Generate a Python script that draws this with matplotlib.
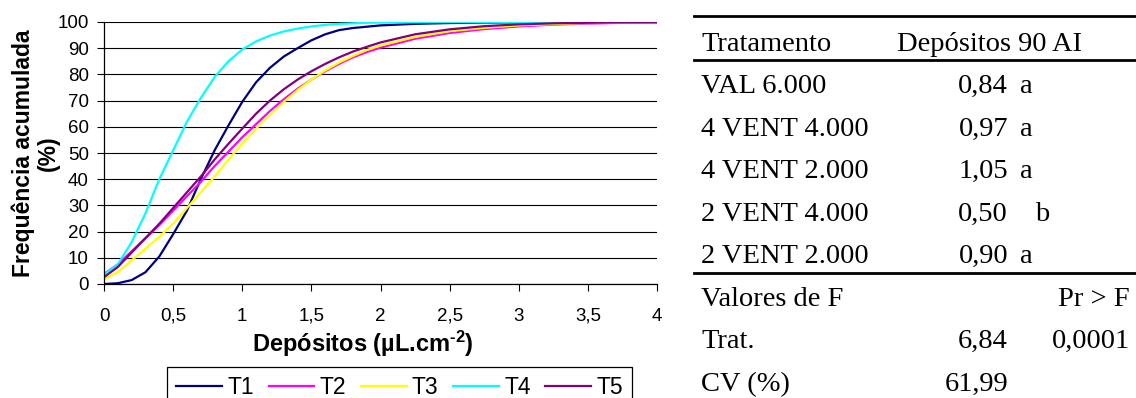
import matplotlib
matplotlib.use("Agg")
import matplotlib.pyplot as plt
from matplotlib.lines import Line2D

# ================= dados =================
deposito = [0.0, 0.1, 0.2, 0.3, 0.4, 0.5, 0.6, 0.7, 0.8, 0.9, 1.0,
            1.1, 1.2, 1.3, 1.4, 1.5, 1.6, 1.7, 1.8, 1.9, 2.0,
            2.25, 2.5, 2.75, 3.0, 3.25, 3.5, 3.75, 4.0]

t1 = [0.0, 0.3, 1.5, 4.5, 10.5, 19.0, 28.0, 40.0, 51.0, 60.5, 69.5,
      77.0, 82.5, 86.8, 90.0, 93.0, 95.3, 96.9, 97.7, 98.2, 98.7,
      99.3, 99.6, 99.8, 99.9, 99.95, 100.0, 100.0, 100.0]
t2 = [3.8, 7.5, 12.5, 17.5, 22.5, 28.0, 33.5, 39.0, 45.0, 50.5, 56.0,
      61.0, 66.0, 70.5, 74.5, 78.0, 81.2, 84.0, 86.5, 88.5, 90.2,
      93.6, 95.8, 97.3, 98.3, 99.0, 99.4, 99.7, 99.8]
t3 = [1.8, 4.5, 9.0, 13.5, 18.0, 23.0, 29.0, 35.0, 41.0, 47.5, 53.5,
      59.3, 64.5, 69.5, 74.0, 78.0, 81.5, 84.5, 87.0, 89.3, 91.0,
      94.3, 96.5, 97.8, 98.7, 99.2, 99.6, 99.8, 99.9]
t4 = [3.5, 7.5, 16.0, 27.0, 40.0, 51.0, 62.0, 71.0, 79.0, 85.0, 89.5,
      92.6, 94.8, 96.4, 97.5, 98.3, 98.9, 99.3, 99.5, 99.7, 99.8,
      99.9, 100.0, 100.0, 100.0, 100.0, 100.0, 100.0, 100.0]
t5 = [2.6, 6.5, 12.0, 17.5, 23.0, 29.0, 35.0, 41.0, 47.5, 53.5, 59.3,
      65.0, 70.0, 74.3, 78.0, 81.2, 84.0, 86.5, 88.7, 90.5, 92.2,
      95.3, 97.2, 98.4, 99.1, 99.5, 99.7, 99.85, 99.9]

series_names = ['T1', 'T2', 'T3', 'T4', 'T5']
series_values = [t1, t2, t3, t4, t5]
series_colors = ['#000080', '#FF00FF', '#FFFF00', '#00FFFF', '#800080']

x_ticks = [0, 0.5, 1, 1.5, 2, 2.5, 3, 3.5, 4]
x_tick_labels = ['0', '0,5', '1', '1,5', '2', '2,5', '3', '3,5', '4']
y_ticks = [0, 10, 20, 30, 40, 50, 60, 70, 80, 90, 100]

# tabela ao lado
tratamentos = ['VAL 6.000', '4 VENT 4.000', '4 VENT 2.000', '2 VENT 4.000', '2 VENT 2.000']
depositos_90 = ['0,84', '0,97', '1,05', '0,50', '0,90']
letras = ['a', 'a', 'a', 'b', 'a']
rodape_nomes = ['Valores de F', 'Trat.', 'CV (%)']
rodape_valor = ['', '6,84', '61,99']
rodape_pr = ['Pr > F', '0,0001', '']

# ================= figura =================
W, H = 1136, 398
plt.rcParams['font.family'] = ['Liberation Sans', 'DejaVu Sans']
plt.rcParams['mathtext.fontset'] = 'custom'
plt.rcParams['mathtext.rm'] = 'Liberation Sans:bold'
plt.rcParams['mathtext.default'] = 'rm'

fig = plt.figure(figsize=(W / 100, H / 100), dpi=100)


def fx(px):
    return px / W


def fy(py):
    return 1 - py / H


ax = fig.add_axes([fx(104), fy(284), (657 - 104) / W, (284 - 22) / H])

for name, ys, c in zip(series_names, series_values, series_colors):
    ax.plot(deposito, ys, color=c, lw=1.6, label=name)

ax.set_xlim(0, 4)
ax.set_ylim(0, 100)
ax.set_xticks(x_ticks)
ax.set_xticklabels(x_tick_labels)
ax.set_yticks(y_ticks)
ax.yaxis.grid(True, color='black', lw=0.8)
ax.set_axisbelow(True)
for s in ['top', 'right']:
    ax.spines[s].set_visible(False)
for s in ['left', 'bottom']:
    ax.spines[s].set_linewidth(0.9)
ax.tick_params(axis='both', direction='out', length=5, width=0.8, labelsize=13.5)
ax.tick_params(axis='x', pad=12)
ax.tick_params(axis='y', pad=6)

ax.set_xlabel(r'Depósitos (µL.cm$^{\text{-2}}$)', fontsize=17, fontweight='bold')
ax.xaxis.set_label_coords((362.5 - 104) / 553, (284 - 329) / 262)

fig.text(fx(35.5), fy(153), 'Frequência acumulada\n(%)', rotation=90,
         ha='center', va='center', multialignment='center',
         fontsize=16.5, fontweight='bold', linespacing=1.1)

leg = fig.legend(loc='upper left', bbox_to_anchor=(fx(167), fy(367)), ncol=5,
                 fontsize=16.5, frameon=True, fancybox=False, framealpha=1,
                 edgecolor='black', borderaxespad=0, handlelength=2.0,
                 handletextpad=0.22, columnspacing=0.65, borderpad=0.4)
leg.get_frame().set_linewidth(0.9)

# ================= tabela =================
serif = ['Liberation Serif', 'DejaVu Serif']
fs = 20.5
for yy in [16, 60, 273]:
    fig.add_artist(Line2D([fx(694), 1.0], [fy(yy), fy(yy)], transform=fig.transFigure,
                          color='black', lw=2.0))

fig.text(fx(701), fy(51), 'Tratamento', family=serif, fontsize=fs, va='baseline')
fig.text(fx(897), fy(51), 'Depósitos 90 AI', family=serif, fontsize=fs, va='baseline')

row0, dy = 93.3, 42.5
for i, (t, v, l) in enumerate(zip(tratamentos, depositos_90, letras)):
    yb = fy(row0 + i * dy)
    fig.text(fx(701), yb, t, family=serif, fontsize=fs, va='baseline')
    fig.text(fx(1008), yb, v, family=serif, fontsize=fs, va='baseline', ha='right')
    lx = 1020 if l == 'a' else 1035
    fig.text(fx(lx), yb, l, family=serif, fontsize=fs, va='baseline')

for j, (n, v, p) in enumerate(zip(rodape_nomes, rodape_valor, rodape_pr)):
    yb = fy(row0 + (5 + j) * dy)
    fig.text(fx(701), yb, n, family=serif, fontsize=fs, va='baseline')
    if v:
        fig.text(fx(1008), yb, v, family=serif, fontsize=fs, va='baseline', ha='right')
    if p:
        fig.text(fx(1130), yb, p, family=serif, fontsize=fs, va='baseline', ha='right')

fig.savefig('out.png', dpi=100)
